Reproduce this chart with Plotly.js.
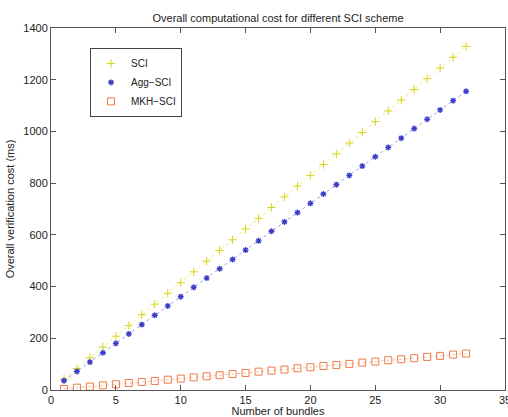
<!DOCTYPE html>
<html><head><meta charset="utf-8">
<script src="https://cdn.plot.ly/plotly-3.0.1.min.js"></script>
<style>html,body{margin:0;padding:0;background:#fff}#c{width:508px;height:417px}</style>
</head><body><div id="c"></div>
<script>
const bundles = [1,2,3,4,5,6,7,8,9,10,11,12,13,14,15,16,17,18,19,20,21,22,23,24,25,26,27,28,29,30,31,32];
const sci = [42,83,125,166,208,249,291,332,374,415,457,498,540,581,623,664,706,747,789,830,872,913,955,996,1038,1079,1121,1162,1204,1245,1287,1329];
const aggSci = [36,72,108,144,180,217,253,289,325,361,397,433,469,505,541,577,614,650,686,722,758,794,830,866,902,938,974,1011,1047,1083,1119,1155];
const mkhSci = [4,9,13,18,22,27,31,35,40,44,49,53,57,62,66,71,75,79,84,88,93,97,101,106,110,115,119,123,128,132,137,141];

const font = {family: 'Liberation Sans, Arial, sans-serif', size: 11, color: '#222'};
const series = [
  {y: sci, name: 'SCI', lc: '#eeee70', mc: '#d6d61e', sym: 'cross-thin-open', size: 6, w: 1},
  {y: aggSci, name: 'Agg\u2212SCI', lc: '#a0a0ea', mc: '#3c3cc8', sym: 'asterisk-open', size: 5, w: 1.3},
  {y: mkhSci, name: 'MKH\u2212SCI', lc: '#f8c0a0', mc: '#f07a45', sym: 'square-open', size: 7, w: 1}
];
const traces = [];
series.forEach(s => {
  traces.push({x: bundles, y: s.y, mode: 'lines', showlegend: false, hoverinfo: 'skip',
    line: {color: s.lc, width: 1, dash: 'dot'}});
});
series.forEach(s => {
  traces.push({x: bundles, y: s.y, name: s.name, mode: 'markers',
    marker: {symbol: s.sym, size: s.size, color: s.mc, line: {width: s.w, color: s.mc}}});
});
const axisCommon = {showgrid: false, zeroline: false, showline: true, linecolor: '#555', linewidth: 1,
  mirror: 'ticks', ticks: 'inside', ticklen: 5, tickcolor: '#555', tickfont: font, ticklabeloverflow: 'allow'};
const layout = {
  width: 508, height: 417,
  margin: {l: 51, r: 3, t: 28, b: 27},
  paper_bgcolor: '#fff', plot_bgcolor: '#fff',
  font: font,
  title: {text: 'Overall computational cost for different SCI scheme', font: {family: font.family, size: 11, color: '#222'},
          x: 0.5, xref: 'paper', y: 1, yref: 'paper', yanchor: 'bottom', pad: {b: 6}},
  xaxis: Object.assign({}, axisCommon, {range: [0, 35], dtick: 5, tick0: 0,
          title: {text: 'Number of bundles', font: font, standoff: 2}}),
  yaxis: Object.assign({}, axisCommon, {range: [0, 1400], dtick: 200, tick0: 0,
          title: {text: 'Overall verification cost (ms)', font: font, standoff: 6}}),
  showlegend: true,
  legend: {x: 0.086, y: 0.945, xanchor: 'left', yanchor: 'top', bordercolor: '#444', borderwidth: 1,
           bgcolor: '#fff', font: {family: font.family, size: 10, color: '#222'}, itemwidth: 30, tracegroupgap: 0,
           itemsizing: 'trace'}
};
Plotly.newPlot('c', traces, layout, {displayModeBar: false, staticPlot: true});
</script></body></html>
